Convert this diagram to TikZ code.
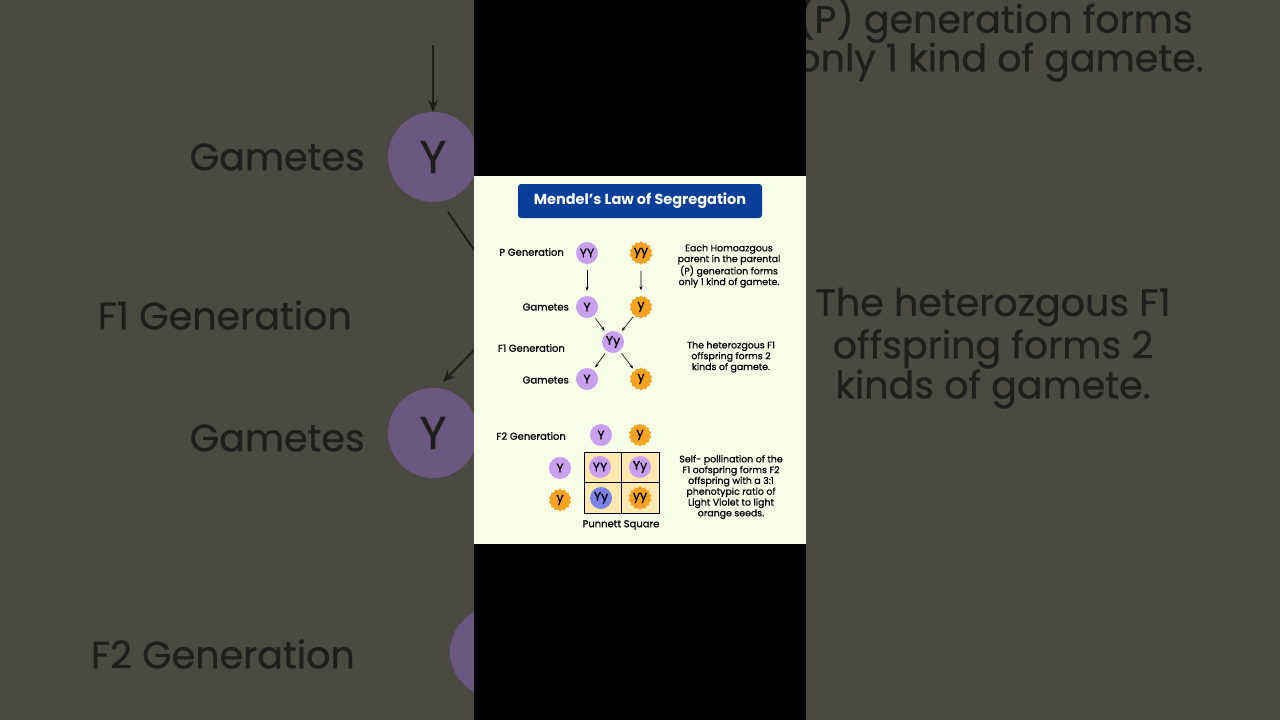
\documentclass[tikz,border=0pt]{standalone}
\usepackage{fontspec}
\setmainfont{Poppins}
\newfontfamily\med{Poppins}[FakeBold=0.7]
\usetikzlibrary{shapes.geometric,arrows.meta}
\definecolor{side}{HTML}{4A4A43}
\definecolor{sidetext}{HTML}{1E1E1C}
\definecolor{sidepur}{HTML}{6B5880}
\definecolor{paper}{HTML}{F7FDE6}
\definecolor{tblue}{HTML}{0A3F99}
\definecolor{pur}{HTML}{C9A0F0}
\definecolor{org}{HTML}{F5A320}
\definecolor{blu}{HTML}{7B83E8}
\definecolor{cell}{HTML}{FBE9B0}
\tikzset{
  x=1pt,y=-1pt,
  big/.style={text=sidetext,font=\med\fontsize{38}{44}\selectfont,inner sep=0},
  lab/.style={font=\med\fontsize{10}{12}\selectfont,inner sep=0},
  note/.style={font=\med\fontsize{9.4}{10.8}\selectfont,align=center,inner sep=0},
  pc/.style={circle,fill=pur,minimum size=22pt,inner sep=0,font=\med\fontsize{12.5}{14}\selectfont},
  bc/.style={circle,fill=blu,minimum size=22pt,inner sep=0,font=\med\fontsize{12.5}{14}\selectfont},
  oc/.style={star,star points=14,star point ratio=1.18,fill=org,minimum size=23pt,inner sep=0,font=\med\fontsize{12.5}{14}\selectfont},
  ar/.style={-{Stealth[length=4pt,width=3pt]},line width=0.6pt},
  bar/.style={-{Stealth[length=12pt,width=10pt]},line width=2pt,sidetext}
}
\begin{document}
\begin{tikzpicture}
\useasboundingbox (0,0) rectangle (1280,720);
\fill[side] (0,0) rectangle (1280,720);
% blurred side copy
\node[circle,fill=sidepur,minimum size=90pt,inner sep=0,font=\med\fontsize{46}{50}\selectfont,text=sidetext] (lY1) at (433,157) {Y};
\node[circle,fill=sidepur,minimum size=90pt,inner sep=0,font=\med\fontsize{46}{50}\selectfont,text=sidetext] (lY2) at (433,433) {Y};
\node[circle,fill=sidepur,minimum size=90pt,inner sep=0] (lY3) at (495,652) {};
\coordinate (ltop) at (433,45);
\draw[bar] (ltop) -- (lY1);
\coordinate (la) at (448,212); \coordinate (lb) at (474,250);
\draw[line width=2pt,sidetext] (la) -- (lb);
\coordinate (lc) at (474,350); \coordinate (ld) at (443,382);
\draw[bar] (lc) -- (ld);
\node[big,anchor=east] (lg1) at (365,157) {Gametes};
\node[big,anchor=east] (lf1) at (352,315) {F1 Generation};
\node[big,anchor=east] (lg2) at (365,438) {Gametes};
\node[big,anchor=east] (lf2) at (355,654) {F2 Generation};
\node[big,anchor=center] (r1) at (995,20) {(P) generation forms};
\node[big,anchor=center] (r2) at (1000,62) {only 1 kind of gamete.};
\node[big,anchor=center] (r3) at (993,307) {The heterozgous F1};
\node[big,anchor=center] (r4) at (993,349) {offspring forms 2};
\node[big,anchor=center] (r5) at (993,389) {kinds of gamete.};
\fill[black] (474,0) rectangle (806,176);
\fill[black] (474,544) rectangle (806,720);
% poster
\fill[paper] (474,176) rectangle (806,544);
\node[fill=tblue,rounded corners=3pt,minimum width=244pt,minimum height=34pt,text=white,font=\fontsize{14.5}{16}\selectfont\bfseries] (title) at (640,201) {Mendel’s Law of Segregation};
\node[pc] (PYY) at (587,253) {YY};
\node[oc] (Pyy) at (641,253) {yy};
\node[pc] (GY) at (587,307) {Y};
\node[oc] (Gy) at (641,307) {y};
\node[pc] (F1) at (613,342) {Yy};
\node[pc] (G2Y) at (587,379) {Y};
\node[oc] (G2y) at (641,379) {y};
\draw[ar,shorten <=6pt,shorten >=5pt] (PYY) -- (GY);
\draw[ar,shorten <=6pt,shorten >=5pt] (Pyy) -- (Gy);
\draw[ar,shorten <=3pt,shorten >=3pt] (GY) -- (F1);
\draw[ar,shorten <=3pt,shorten >=3pt] (Gy) -- (F1);
\draw[ar,shorten <=3pt,shorten >=3pt] (F1) -- (G2Y);
\draw[ar,shorten <=3pt,shorten >=3pt] (F1) -- (G2y);
\node[lab,anchor=east] (l1) at (564,252) {P Generation};
\node[lab,anchor=east] (l2) at (569,307) {Gametes};
\node[lab,anchor=east] (l3) at (565,348) {F1 Generation};
\node[lab,anchor=east] (l4) at (569,380) {Gametes};
\node[lab,anchor=east] (l5) at (566,436) {F2 Generation};
\node[note] (n1) at (729,266) {Each Homoazgous\\parent in the parental\\(P) generation forms\\only 1 kind of gamete.};
\node[note] (n2) at (731,357) {The heterozgous F1\\offspring forms 2\\kinds of gamete.};
\node[note] (n3) at (731,487) {Self- pollination of the\\F1 oofspring forms F2\\offspring with a 3:1\\phenotypic ratio of\\Light Violet to light\\orange seeds.};
% Punnett
\draw[fill=cell,line width=0.6pt] (584,452) rectangle (659,513);
\draw[line width=0.6pt] (621,452) -- (621,513) (584,482) -- (659,482);
\node[pc] (cY) at (601,435) {Y};
\node[oc] (cy) at (640,435) {y};
\node[pc] (rY) at (560,468) {Y};
\node[oc] (ry) at (560,500) {y};
\node[pc] (c11) at (600,467) {YY};
\node[pc] (c12) at (640,467) {Yy};
\node[bc] (c21) at (601,498) {Yy};
\node[oc] (c22) at (640,498) {yy};
\node[lab] (ps) at (621,525) {Punnett Square};
\end{tikzpicture}
\end{document}
